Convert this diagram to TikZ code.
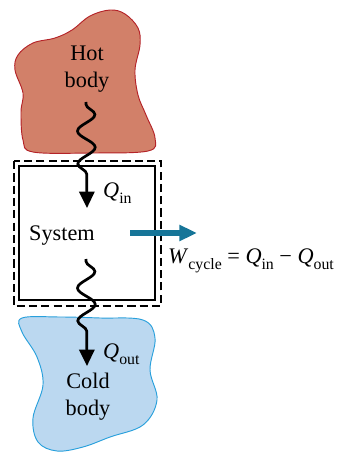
\documentclass[tikz,border=0pt]{standalone}
\usepackage{fontspec}
\setmainfont{Liberation Serif}
\usetikzlibrary{arrows.meta,decorations.pathmorphing}
\definecolor{hotfill}{RGB}{210,128,105}
\definecolor{hotline}{RGB}{180,35,40}
\definecolor{coldfill}{RGB}{187,216,240}
\definecolor{coldline}{RGB}{40,160,220}
\definecolor{workblue}{RGB}{22,117,152}
\newcommand{\qty}[2]{\textit{#1}\raisebox{-0.55ex}{\fontsize{13.5}{15}\selectfont #2}}
\tikzset{
  lbl/.style={font=\fontsize{19}{23}\selectfont, inner sep=0pt},
  heat/.style={line width=2.3pt, decorate,
    decoration={snake, segment length=28, amplitude=7.5, pre length=2, post length=18},
    -{Triangle[length=14pt,width=13pt]}},
}
\begin{document}
\begin{tikzpicture}[x=0.03cm,y=-0.03cm]
  \useasboundingbox (0,0) rectangle (336,452);

  % reservoirs
  \draw[hotline, fill=hotfill, line width=0.8pt] plot[smooth cycle, tension=0.6] coordinates {
    (33,152) (90,153) (148,151) (155,138) (146,115) (138,95) (135,70) (140,45)
    (138,28) (125,14) (110,10) (90,16) (72,30) (55,38) (33,43) (18,55) (15,70)
    (23,93) (21,112) (23,140)};
  \draw[coldline, fill=coldfill, line width=0.8pt] plot[smooth cycle, tension=0.6] coordinates {
    (22,318) (60,317) (100,318) (143,320) (155,338) (150,370) (157,400) (143,425)
    (110,437) (83,447) (57,451) (38,442) (33,418) (43,385) (37,357) (22,332)};

  % system boundary
  \draw[line width=0.9pt, dash pattern=on 7pt off 3.5pt, fill=white] (14,161) rectangle (161,306);
  \draw[line width=0.9pt] (19,166) rectangle (155,300);

  \node[lbl, align=center] (hot) at (87,69) {Hot\\body};
  \node[lbl, align=center] (cold) at (88,397) {Cold\\body};
  \node[lbl] (system) at (62,236) {System};

  \coordinate (hotsrc) at (86,102);
  \coordinate (intip) at (87,208);
  \coordinate (outsrc) at (86,259);
  \coordinate (outtip) at (87,366);
  \coordinate (wstart) at (130,233);
  \coordinate (wend) at (197,233);

  \draw[heat] (hotsrc) -- (intip);
  \draw[heat] (outsrc) -- (outtip);
  \draw[workblue, line width=4.3pt, -{Triangle[length=15pt,width=13pt]}] (wstart) -- (wend);

  \node[lbl, anchor=west] (qin) at (103,193) {\qty{Q}{in}};
  \node[lbl, anchor=west] (qout) at (103,354) {\qty{Q}{out}};
  \node[lbl, anchor=west] (wcycle) at (168,261) {\qty{W}{cycle} = \qty{Q}{in} − \qty{Q}{out}};
\end{tikzpicture}
\end{document}
